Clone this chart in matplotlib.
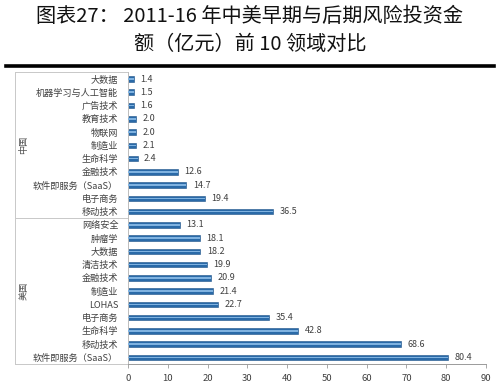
import matplotlib
matplotlib.use("Agg")
import matplotlib.pyplot as plt
import matplotlib.transforms as mtransforms

plt.rcParams['font.family'] = ['Noto Sans CJK SC', 'DejaVu Sans']

title_line1 = "图表27： 2011-16 年中美早期与后期风险投资金"
title_line2 = "额（亿元）前 10 领域对比"

china_categories = ["大数据", "机器学习与人工智能", "广告技术", "教育技术", "物联网",
                    "制造业", "生命科学", "金融技术", "软件即服务（SaaS）", "电子商务", "移动技术"]
china_values = [1.4, 1.5, 1.6, 2.0, 2.0, 2.1, 2.4, 12.6, 14.7, 19.4, 36.5]

us_categories = ["网络安全", "肿瘤学", "大数据", "清洁技术", "金融技术", "制造业",
                 "LOHAS", "电子商务", "生命科学", "移动技术", "软件即服务（SaaS）"]
us_values = [13.1, 18.1, 18.2, 19.9, 20.9, 21.4, 22.7, 35.4, 42.8, 68.6, 80.4]

group_labels = ["中国", "美国"]
x_ticks = [0, 10, 20, 30, 40, 50, 60, 70, 80, 90]

categories = china_categories + us_categories
values = china_values + us_values
pos = list(range(len(categories)))

fig = plt.figure(figsize=(5.0, 3.82), dpi=100)
fig.patch.set_facecolor('white')

# Title
fig.text(0.5, 1 - 16 / 382, title_line1, ha='center', va='center', fontsize=14.5, color='#111111')
fig.text(0.5, 1 - 44 / 382, title_line2, ha='center', va='center', fontsize=14.5, color='#111111')
fig.add_artist(plt.Line2D([6 / 500, 494 / 500], [1 - 66 / 382, 1 - 66 / 382],
                          color='black', linewidth=2.6, transform=fig.transFigure))

ax = fig.add_axes([128 / 500, 1 - 364 / 382, 358 / 500, (364 - 72.4) / 382])

ax.barh(pos, values, height=0.42, color='#2a6aa8', edgecolor='#1d5288', linewidth=0.4, zorder=2)
ax.barh(pos, values, height=0.12, color='#7fb2e0', linewidth=0, zorder=3, align='center')

for p, v in zip(pos, values):
    ax.text(v + 1.6, p, f"{v:.1f}", va='center', ha='left', fontsize=6.5, color='#404040', zorder=4)

ax.set_xlim(0, 90)
ax.set_ylim(len(categories) - 0.5, -0.5)
ax.set_xticks(x_ticks)
ax.set_xticklabels([str(t) for t in x_ticks], fontsize=6.8, color='#404040')
ax.set_yticks(pos)
ax.set_yticklabels(categories, fontsize=6.6, color='#404040')
ax.tick_params(axis='y', length=0, pad=7)
ax.tick_params(axis='x', length=3, width=0.6, color='#9a9a9a', pad=4)

for s in ['top', 'right']:
    ax.spines[s].set_visible(False)
ax.spines['left'].set_color('#bcbcbc')
ax.spines['left'].set_linewidth(0.7)
ax.spines['bottom'].set_color('#9a9a9a')
ax.spines['bottom'].set_linewidth(0.7)

# Group axis
trans = mtransforms.blended_transform_factory(ax.transAxes, ax.transData)
x_left = (15 - 128) / 358
n_cn = len(china_categories)
n_all = len(categories)
for yb in [-0.5, n_cn - 0.5, n_all - 0.5]:
    ax.plot([x_left, 0], [yb, yb], color='#c8c8c8', linewidth=0.7, transform=trans, clip_on=False)
ax.plot([x_left, x_left], [-0.5, n_all - 0.5], color='#c8c8c8', linewidth=0.7,
        transform=trans, clip_on=False)

x_grp = (24 - 128) / 358
ax.text(x_grp, (n_cn - 1) / 2, group_labels[0], rotation=90, ha='center', va='center',
        fontsize=6.6, color='#505050', transform=trans)
ax.text(x_grp, n_cn + (n_all - n_cn - 1) / 2, group_labels[1], rotation=90, ha='center', va='center',
        fontsize=6.6, color='#505050', transform=trans)

fig.savefig("out.png", dpi=100, facecolor='white')
